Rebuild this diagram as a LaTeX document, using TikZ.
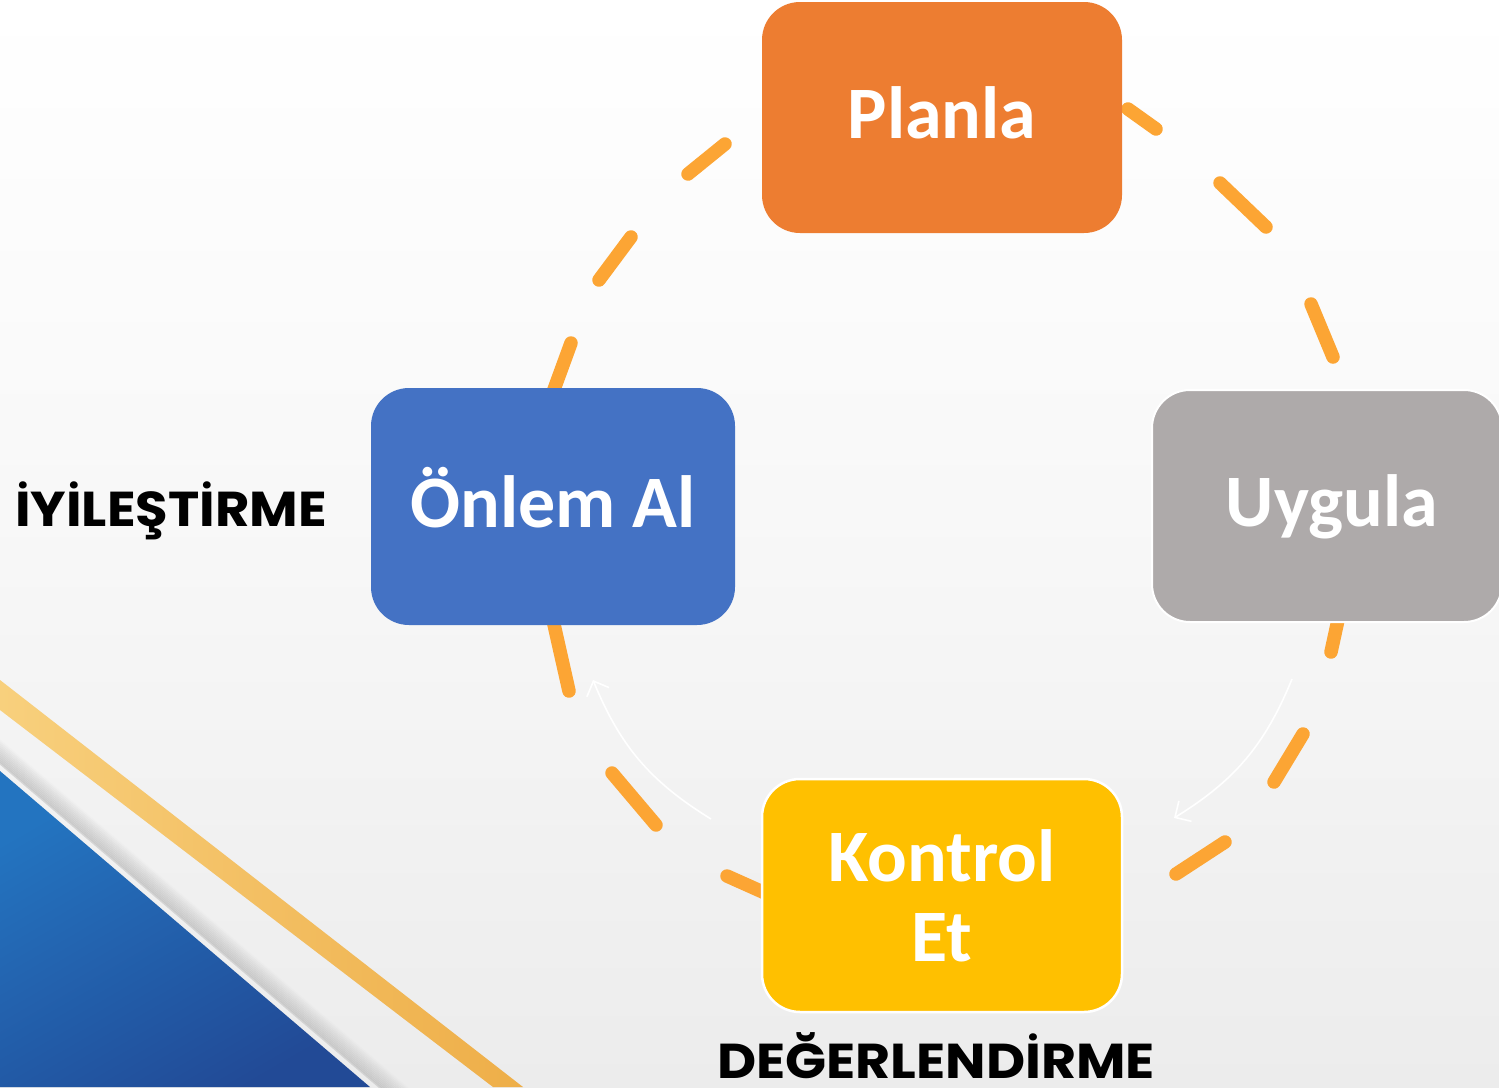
\documentclass[tikz,border=0pt]{standalone}
\usepackage{fontspec}
\usepackage{graphicx}
\setmainfont{Carlito}
\newfontfamily\popfont{Poppins}
\usetikzlibrary{arrows.meta}
\definecolor{bggray}{RGB}{236,236,236}
\definecolor{cplan}{RGB}{237,125,49}
\definecolor{cuyg}{RGB}{174,170,170}
\definecolor{ckon}{RGB}{255,192,0}
\definecolor{conl}{RGB}{68,114,196}
\definecolor{cdash}{RGB}{252,165,52}
\definecolor{stripeA}{RGB}{248,208,125}
\definecolor{stripeB}{RGB}{238,174,72}
\definecolor{blueA}{RGB}{35,116,192}
\definecolor{blueB}{RGB}{34,74,150}
\definecolor{shadowgray}{RGB}{190,190,190}
\tikzset{
  stagebox/.style={rounded corners=38pt, inner sep=0pt, text=white,
    font=\bfseries\fontsize{74}{80}\selectfont, align=center},
  oneline/.style={text height=41pt, text depth=0pt},
  dashseg/.style={cdash, line width=13.5pt, line cap=round},
  flowarrow/.style={white, line width=1.6pt, -{Straight Barb[length=12pt,width=24pt,line width=1.6pt]}},
  sidelabel/.style={inner sep=0pt, text depth=0pt, font=\popfont\bfseries\fontsize{49}{52}\selectfont, text=black}
}
\begin{document}
\begin{tikzpicture}[x=1pt,y=-1pt]
\useasboundingbox (0,0) rectangle (1499,1087);
% background
\shade[top color=white, bottom color=bggray, middle color=white!60!bggray] (0,0) rectangle (1499,1087);
% gold stripe
\shade[left color=stripeA, right color=stripeB] (0,680) -- (0,710) -- (493,1087) -- (523,1087) -- cycle;
% soft shadow along blue edge
\foreach \i in {0,...,11}{
  \pgfmathsetmacro{\v}{8+2*\i}
  \pgfmathsetmacro{\op}{0.55*(1-\i/12)}
  \draw[shadowgray, line width=2.6pt, opacity=\op, yshift=\v pt] (-50,728.35) -- (450,1154.85);
}
% blue triangle
\shade[top color=blueA, bottom color=blueB, shading angle=30] (0,771) -- (370,1087) -- (0,1087) -- cycle;
% dashed cycle
\foreach \a/\b in {
  {(1128,109)}/{(1156,129)},
  {(1220,183)}/{(1266,227)},
  {(1311,304)}/{(1333,357)},
  {(1338,620)}/{(1331,652)},
  {(1303,734)}/{(1274,782)},
  {(1225,842)}/{(1176,874)},
  {(727,876)}/{(765,893)},
  {(612,773)}/{(656,825)},
  {(553,620)}/{(569,691)},
  {(571,343)}/{(552,395)},
  {(631,237)}/{(599,280)},
  {(725,144)}/{(688,174)}}
  \draw[dashseg] \a -- \b;
% boxes
\node[stagebox, oneline, fill=cplan, minimum width=360pt, minimum height=231pt] (planla) at (942,117.5) {Planla};
\node[stagebox, oneline, fill=cuyg, draw=white, line width=2pt, minimum width=350pt, minimum height=232pt] (uygula) at (1327,506) {\hspace*{10pt}Uygula};
\node[stagebox, fill=ckon, draw=white, line width=2.5pt, minimum width=360pt, minimum height=233pt] (kontrol) at (942,895.5) {Kontrol\\Et};
\node[stagebox, oneline, fill=conl, minimum width=364pt, minimum height=237pt] (onlem) at (553,506.5) {Önlem Al};
% thin white arrows
\coordinate (ua) at (1292,679);
\coordinate (ka) at (1174,818);
\coordinate (kb) at (711,819);
\coordinate (oa) at (593,680);
\draw[flowarrow] (ua) to[bend left=18] (ka);
\draw[flowarrow] (kb) to[bend left=18] (oa);
% side labels
\node[sidelabel, anchor=base west] (iyi) at (15,526) {\scalebox{1.08}[1]{İYİLEŞTİRME}};
\node[sidelabel, anchor=base] (deg) at (936,1078) {\scalebox{1.1}[1]{DEĞERLENDİRME}};
\end{tikzpicture}
\end{document}
